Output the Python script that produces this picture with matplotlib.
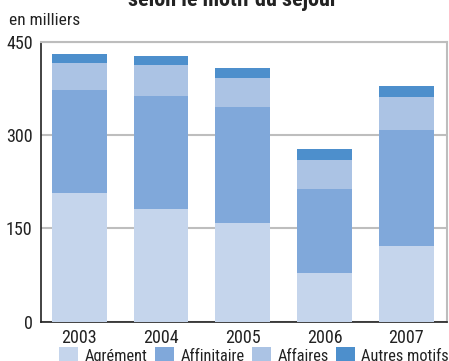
import matplotlib
matplotlib.use("Agg")
import matplotlib.pyplot as plt
from matplotlib.patches import Patch
from matplotlib import font_manager

# Prefer a condensed sans-serif face when one is installed
entries = font_manager.fontManager.ttflist
names = {f.name for f in entries}
stretch = "normal"
if "Roboto Condensed" in names:
    family, scale = ["Roboto Condensed", "DejaVu Sans"], 1.0
elif "Liberation Sans Narrow" in names:
    family, scale = ["Liberation Sans Narrow", "DejaVu Sans"], 1.0
elif any(f.name == "DejaVu Sans" and str(f.stretch) in ("condensed", "semi-condensed") for f in entries):
    family, scale, stretch = ["DejaVu Sans"], 0.92, "condensed"
else:
    family, scale = ["Liberation Sans", "DejaVu Sans"], 0.86
plt.rcParams["font.family"] = family
plt.rcParams["font.stretch"] = stretch

years = ["2003", "2004", "2005", "2006", "2007"]
agrement = [207, 181, 158, 78, 122]
affinitaire = [165, 182, 187, 135, 186]
affaires = [44, 50, 47, 47, 53]
autres = [14, 14, 16, 18, 18]

series = [
    ("Agrément", agrement, "#C5D5EC"),
    ("Affinitaire", affinitaire, "#80A8DA"),
    ("Affaires", affaires, "#ABC3E4"),
    ("Autres motifs", autres, "#4D8FCC"),
]

fig = plt.figure(figsize=(4.49, 3.61), dpi=100)
ax = fig.add_axes([41 / 449, 1 - 321.6 / 361, 406 / 449, 279.6 / 361])

x = list(range(len(years)))
bottom = [0] * len(years)
for name, vals, col in series:
    ax.bar(x, vals, width=0.67, bottom=bottom, color=col, zorder=3, linewidth=0)
    bottom = [b + v for b, v in zip(bottom, vals)]

ax.set_xlim(-0.47, 4.5)
ax.set_ylim(0, 450)
ax.set_yticks([0, 150, 300, 450])
ax.set_xticks(x)
ax.set_xticklabels(years)
ax.yaxis.grid(True, color="#BEBEBE", linewidth=1.5, zorder=0)
ax.tick_params(axis="both", length=0, labelsize=13 * scale, colors="#222222")
ax.tick_params(axis="y", pad=6)
ax.tick_params(axis="x", pad=5)

for s in ["top", "right"]:
    ax.spines[s].set_color("#BDBDBD")
    ax.spines[s].set_linewidth(1.5)
for s in ["left", "bottom"]:
    ax.spines[s].set_color("#222222")
    ax.spines[s].set_linewidth(1.2)

fig.text(9 / 449, 1 - 25 / 361, "en milliers", fontsize=12.5 * scale, color="#222222", va="baseline")
fig.text(233 / 449, 1 - 6 / 361, "selon le motif du séjour", fontsize=16 * scale, fontweight="bold",
         color="#222222", ha="center", va="baseline")

handles = [Patch(facecolor=c, edgecolor="none", label=n) for n, _, c in series]
fig.legend(handles=handles, loc="upper center", bbox_to_anchor=(0.566, 1 - 336 / 361), ncol=4,
           frameon=False, fontsize=11.8 * scale, handlelength=1.15, handleheight=1.15,
           columnspacing=0.45, handletextpad=0.4, labelcolor="#222222", borderpad=0.2)

fig.savefig("out.png", dpi=100)
